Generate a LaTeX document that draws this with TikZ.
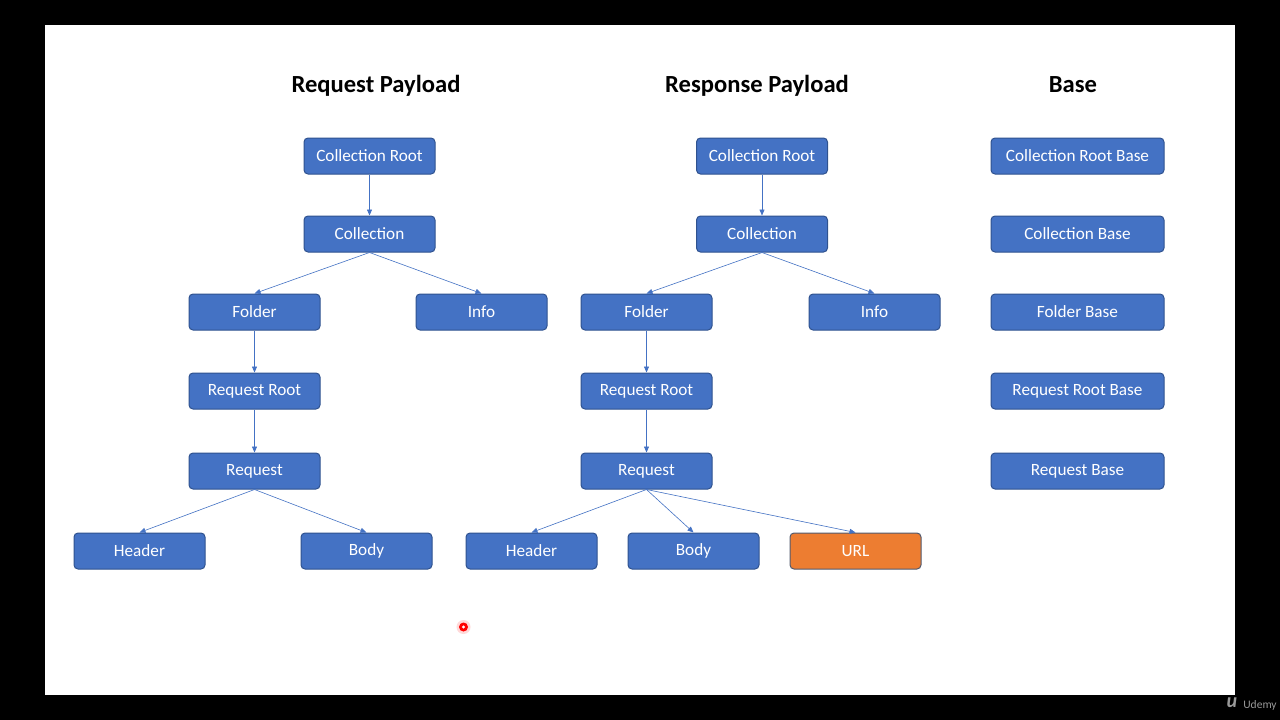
\documentclass[tikz,border=0pt]{standalone}
\usepackage{fontspec}
\setmainfont{Carlito}
\usepackage{xcolor}
\usetikzlibrary{arrows.meta}
\definecolor{boxblue}{HTML}{4472C4}
\definecolor{boxline}{HTML}{2F528F}
\definecolor{boxorange}{HTML}{ED7D31}
\definecolor{urlline}{HTML}{525A6E}

\begin{document}
\begin{tikzpicture}[x=1pt,y=-1pt,
    box/.style={draw=boxline,fill=boxblue,rounded corners=4pt,line width=1pt,
      minimum width=131pt,minimum height=36pt,inner sep=0pt,text=white,
      font=\fontsize{17.2}{20}\selectfont},
    basebox/.style={box,minimum width=173pt},
    urlbox/.style={box,fill=boxorange,draw=urlline},
    heading/.style={anchor=base,font=\fontsize{24.6}{28}\selectfont\bfseries},
    link/.style={boxblue,line width=0.6pt,-{Triangle[length=6pt,width=5pt]}}]
      \fill[black] (0,0) rectangle (1280,720);
      \fill[white] (45,25) rectangle (1235,695);
      % headings
      \node[heading] (reqtitle) at (376,92) {Request Payload};
      \node[heading] (restitle) at (757,92) {Response Payload};
      \node[heading] (basetitle) at (1073,92) {Base};
      % request payload
      \node[box] (qroot) at (369.5,156) {Collection Root};
      \node[box] (qcoll) at (369.5,234) {Collection};
      \node[box] (qfolder) at (254.5,312) {Folder};
      \node[box] (qinfo) at (481.5,312) {Info};
      \node[box] (qreqroot) at (254.5,391) {Request Root};
      \node[box] (qreq) at (254.5,471) {Request};
      \node[box] (qheader) at (139.5,551) {Header};
      \node[box] (qbody) at (366.5,551) {Body};
      \draw[link] (qroot.south) -- (qcoll.north);
      \draw[link] (qcoll.south) -- (qfolder.north);
      \draw[link] (qcoll.south) -- (qinfo.north);
      \draw[link] (qfolder.south) -- (qreqroot.north);
      \draw[link] (qreqroot.south) -- (qreq.north);
      \draw[link] (qreq.south) -- (qheader.north);
      \draw[link] (qreq.south) -- (qbody.north);
      % response payload
      \node[box] (sroot) at (762,156) {Collection Root};
      \node[box] (scoll) at (762,234) {Collection};
      \node[box] (sfolder) at (646.5,312) {Folder};
      \node[box] (sinfo) at (874.5,312) {Info};
      \node[box] (sreqroot) at (646.5,391) {Request Root};
      \node[box] (sreq) at (646.5,471) {Request};
      \node[box] (sheader) at (531.5,551) {Header};
      \node[box] (sbody) at (693.5,551) {Body};
      \node[urlbox] (surl) at (855.5,551) {URL};
      \draw[link] (sroot.south) -- (scoll.north);
      \draw[link] (scoll.south) -- (sfolder.north);
      \draw[link] (scoll.south) -- (sinfo.north);
      \draw[link] (sfolder.south) -- (sreqroot.north);
      \draw[link] (sreqroot.south) -- (sreq.north);
      \draw[link] (sreq.south) -- (sheader.north);
      \draw[link] (sreq.south) -- (sbody.north);
      \draw[link] (sreq.south) -- (surl.north);
      % base
      \node[basebox] (broot) at (1077.5,156) {Collection Root Base};
      \node[basebox] (bcoll) at (1077.5,234) {Collection Base};
      \node[basebox] (bfolder) at (1077.5,312) {Folder Base};
      \node[basebox] (breqroot) at (1077.5,391) {Request Root Base};
      \node[basebox] (breq) at (1077.5,471) {Request Base};
      % pointer and logo
      \fill[red!15] (463.5,627) circle (7);
      \fill[red] (463.5,627) circle (4.5);
      \fill[white] (463.5,627) circle (1.6);
      \node[text=gray!80,font=\fontsize{20}{20}\selectfont\bfseries\itshape] (logo) at (1232,703) {u};
      \node[text=gray!80,font=\fontsize{11.5}{12}\selectfont] (udemy) at (1260,705) {Udemy};
    \end{tikzpicture}
\end{document}
